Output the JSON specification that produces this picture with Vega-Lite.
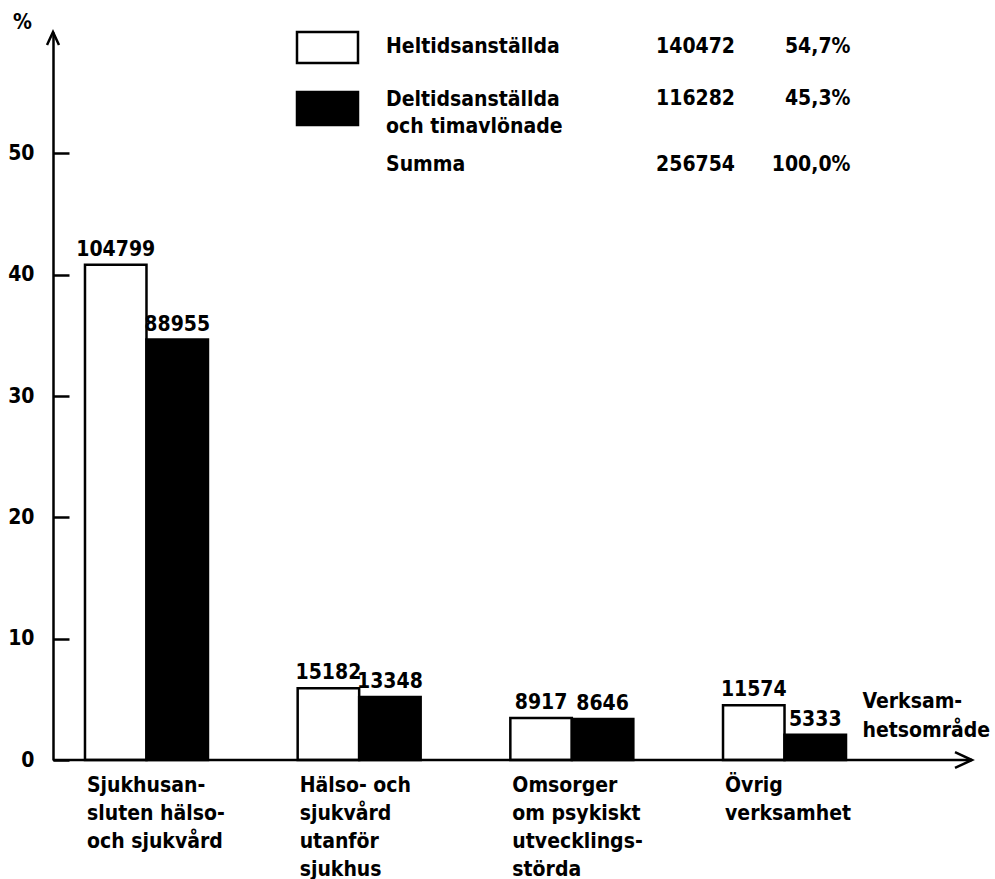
{
  "$schema": "https://vega.github.io/schema/vega-lite/v6.json",
  "width": 919,
  "height": 728,
  "autosize": {"type": "none"},
  "padding": {"left": 53, "top": 32, "right": 23, "bottom": 119},
  "background": "white",
  "config": {
    "view": {"stroke": null},
    "font": "DejaVu Sans Condensed, DejaVu Sans",
    "text": {"font": "DejaVu Sans Condensed, DejaVu Sans", "fontSize": 21, "fontWeight": "bold", "color": "black"},
    "axis": {
      "labelFont": "DejaVu Sans Condensed, DejaVu Sans",
      "titleFont": "DejaVu Sans Condensed, DejaVu Sans",
      "labelFontWeight": "bold",
      "titleFontWeight": "bold",
      "labelFontSize": 21,
      "titleFontSize": 21,
      "labelColor": "black",
      "titleColor": "black",
      "domainColor": "black",
      "tickColor": "black",
      "grid": false
    }
  },
  "layer": [
    {
      "data": {
        "values": [
          {"omrade": "Sjukhusan-\nsluten hälso-\noch sjukvård", "grupp": "Heltidsanställda", "antal": 104799, "procent": 40.82},
          {"omrade": "Sjukhusan-\nsluten hälso-\noch sjukvård", "grupp": "Deltidsanställda och timavlönade", "antal": 88955, "procent": 34.65},
          {"omrade": "Hälso- och\nsjukvård\nutanför\nsjukhus", "grupp": "Heltidsanställda", "antal": 15182, "procent": 5.91},
          {"omrade": "Hälso- och\nsjukvård\nutanför\nsjukhus", "grupp": "Deltidsanställda och timavlönade", "antal": 13348, "procent": 5.20},
          {"omrade": "Omsorger\nom psykiskt\nutvecklings-\nstörda", "grupp": "Heltidsanställda", "antal": 8917, "procent": 3.47},
          {"omrade": "Omsorger\nom psykiskt\nutvecklings-\nstörda", "grupp": "Deltidsanställda och timavlönade", "antal": 8646, "procent": 3.37},
          {"omrade": "Övrig\nverksamhet", "grupp": "Heltidsanställda", "antal": 11574, "procent": 4.51},
          {"omrade": "Övrig\nverksamhet", "grupp": "Deltidsanställda och timavlönade", "antal": 5333, "procent": 2.08}
        ]
      },
      "encoding": {
        "x": {
          "field": "omrade",
          "type": "nominal",
          "sort": null,
          "scale": {"range": [0, 825], "paddingInner": 0.4217, "paddingOuter": 0.1504},
          "axis": {
            "domain": false,
            "ticks": false,
            "tickSize": 0,
            "labelAngle": 0,
            "labelAlign": "left",
            "labelBaseline": "top",
            "labelPadding": 14,
            "labelOffset": -59.5,
            "labelLineHeight": 28,
            "labelOverlap": false,
            "labelBound": false,
            "labelFlush": false,
            "labelLimit": 0,
            "labelExpr": "split(datum.label, '\\n')",
            "title": ["Verksam-", "hetsområde"],
            "titleX": 809,
            "titleY": -53,
            "titleAlign": "left",
            "titleAnchor": "start",
            "titleBaseline": "alphabetic",
            "titleLineHeight": 29
          }
        },
        "xOffset": {
          "field": "grupp",
          "type": "nominal",
          "sort": ["Heltidsanställda", "Deltidsanställda och timavlönade"],
          "scale": {"paddingInner": 0, "paddingOuter": 0}
        },
        "y": {
          "field": "procent",
          "type": "quantitative",
          "scale": {"domain": [0, 60], "nice": false},
          "axis": {
            "values": [0, 10, 20, 30, 40, 50],
            "domainWidth": 2.5,
            "tickWidth": 2.5,
            "tickSize": -16,
            "labelPadding": 35,
            "labelBaseline": "middle",
            "title": "%",
            "titleAngle": 0,
            "titleX": -31,
            "titleY": -10,
            "titleAlign": "center",
            "titleBaseline": "middle"
          }
        }
      },
      "layer": [
        {
          "mark": {"type": "bar", "stroke": "black", "strokeWidth": 2.5},
          "encoding": {
            "fill": {
              "field": "grupp",
              "type": "nominal",
              "scale": {"domain": ["Heltidsanställda", "Deltidsanställda och timavlönade"], "range": ["white", "black"]},
              "legend": null
            }
          }
        },
        {
          "mark": {"type": "text", "align": "center", "baseline": "alphabetic", "dy": -9},
          "encoding": {
            "text": {"field": "antal", "type": "quantitative", "format": "d"}
          }
        }
      ]
    },
    {
      "data": {
        "values": [
          {"rad": "Heltidsanställda", "namn": "Heltidsanställda", "grupp": "Heltidsanställda", "antal": "140472", "andel": "54,7%"},
          {"rad": "Deltidsanställda och timavlönade", "namn": "Deltidsanställda\noch timavlönade", "grupp": "Deltidsanställda och timavlönade", "antal": "116282", "andel": "45,3%"},
          {"rad": "Summa", "namn": "Summa", "grupp": null, "antal": "256754", "andel": "100,0%"}
        ]
      },
      "encoding": {
        "y": {
          "field": "rad",
          "type": "nominal",
          "sort": null,
          "scale": {"type": "point", "padding": 0, "domain": ["Heltidsanställda", "Deltidsanställda och timavlönade", "Summa"], "range": [13, 131]},
          "axis": null
        }
      },
      "layer": [
        {
          "transform": [{"filter": "datum.rad == 'Heltidsanställda'"}],
          "mark": {"type": "point", "shape": "M-1,-0.426H1V0.59H-1Z", "size": 3721, "filled": true, "stroke": "black", "strokeWidth": 2.5, "opacity": 1},
          "encoding": {
            "x": {"datum": "ruta", "type": "nominal", "scale": {"type": "point", "padding": 0, "domain": ["ruta", "namn", "antal", "andel"], "range": [274.5, 797.5]}, "axis": null},
            "fill": {"field": "grupp", "type": "nominal", "legend": null}
          }
        },
        {
          "transform": [{"filter": "datum.rad == 'Deltidsanställda och timavlönade'"}],
          "mark": {"type": "point", "shape": "M-1,-0.393H1V0.689H-1Z", "size": 3721, "filled": true, "stroke": "black", "strokeWidth": 2.5, "opacity": 1},
          "encoding": {
            "x": {"datum": "ruta", "type": "nominal", "scale": {"type": "point", "padding": 0, "domain": ["ruta", "namn", "antal", "andel"], "range": [274.5, 797.5]}, "axis": null},
            "fill": {"field": "grupp", "type": "nominal", "legend": null}
          }
        },
        {
          "transform": [{"filter": "datum.rad != 'Deltidsanställda och timavlönade'"}],
          "mark": {"type": "text", "align": "left", "baseline": "alphabetic", "dy": 8, "dx": -115.8},
          "encoding": {
            "x": {"datum": "namn", "type": "nominal", "scale": {"type": "point", "padding": 0, "domain": ["ruta", "namn", "antal", "andel"], "range": [274.5, 797.5]}, "axis": null},
            "text": {"field": "namn"}
          }
        },
        {
          "transform": [{"filter": "datum.rad == 'Deltidsanställda och timavlönade'"}],
          "mark": {"type": "text", "align": "left", "baseline": "alphabetic", "dy": 2, "dx": -115.8, "lineBreak": "\n", "lineHeight": 27},
          "encoding": {
            "x": {"datum": "namn", "type": "nominal", "scale": {"type": "point", "padding": 0, "domain": ["ruta", "namn", "antal", "andel"], "range": [274.5, 797.5]}, "axis": null},
            "text": {"field": "namn"}
          }
        },
        {
          "transform": [{"filter": "datum.rad != 'Deltidsanställda och timavlönade'"}],
          "mark": {"type": "text", "align": "right", "baseline": "alphabetic", "dy": 8, "dx": 58.8},
          "encoding": {
            "x": {"datum": "antal", "type": "nominal", "scale": {"type": "point", "padding": 0, "domain": ["ruta", "namn", "antal", "andel"], "range": [274.5, 797.5]}, "axis": null},
            "text": {"field": "antal"}
          }
        },
        {
          "transform": [{"filter": "datum.rad == 'Deltidsanställda och timavlönade'"}],
          "mark": {"type": "text", "align": "right", "baseline": "alphabetic", "dy": 1, "dx": 58.8},
          "encoding": {
            "x": {"datum": "antal", "type": "nominal", "scale": {"type": "point", "padding": 0, "domain": ["ruta", "namn", "antal", "andel"], "range": [274.5, 797.5]}, "axis": null},
            "text": {"field": "antal"}
          }
        },
        {
          "transform": [{"filter": "datum.rad != 'Deltidsanställda och timavlönade'"}],
          "mark": {"type": "text", "align": "right", "baseline": "alphabetic", "dy": 8, "dx": 0},
          "encoding": {
            "x": {"datum": "andel", "type": "nominal", "scale": {"type": "point", "padding": 0, "domain": ["ruta", "namn", "antal", "andel"], "range": [274.5, 797.5]}, "axis": null},
            "text": {"field": "andel"}
          }
        },
        {
          "transform": [{"filter": "datum.rad == 'Deltidsanställda och timavlönade'"}],
          "mark": {"type": "text", "align": "right", "baseline": "alphabetic", "dy": 1, "dx": 0},
          "encoding": {
            "x": {"datum": "andel", "type": "nominal", "scale": {"type": "point", "padding": 0, "domain": ["ruta", "namn", "antal", "andel"], "range": [274.5, 797.5]}, "axis": null},
            "text": {"field": "andel"}
          }
        }
      ]
    },
    {
      "data": {"values": [{"axel": "x"}]},
      "layer": [
        {
          "mark": {"type": "rule", "color": "black", "strokeWidth": 2.5},
          "encoding": {
            "x": {"datum": 0, "type": "quantitative", "scale": {"domain": [0, 1], "nice": false}, "axis": null},
            "x2": {"datum": 1},
            "y": {"datum": 0, "type": "quantitative", "scale": {"domain": [0, 60], "nice": false}, "axis": null}
          }
        },
        {
          "mark": {"type": "point", "shape": "M-1,-0.47L0,0L-1,0.47", "size": 1156, "filled": false, "stroke": "black", "strokeWidth": 2.5, "opacity": 1},
          "encoding": {
            "x": {"datum": 1, "type": "quantitative", "scale": {"domain": [0, 1], "nice": false}, "axis": null},
            "y": {"datum": 0, "type": "quantitative", "scale": {"domain": [0, 60], "nice": false}, "axis": null}
          }
        },
        {
          "mark": {"type": "point", "shape": "M-0.46,1L0,0L0.46,1", "size": 676, "filled": false, "stroke": "black", "strokeWidth": 2.5, "opacity": 1},
          "encoding": {
            "x": {"datum": 0, "type": "quantitative", "scale": {"domain": [0, 1], "nice": false}, "axis": null},
            "y": {"datum": 60, "type": "quantitative", "scale": {"domain": [0, 60], "nice": false}, "axis": null}
          }
        }
      ]
    }
  ],
  "resolve": {"scale": {"x": "independent", "y": "independent"}}
}
